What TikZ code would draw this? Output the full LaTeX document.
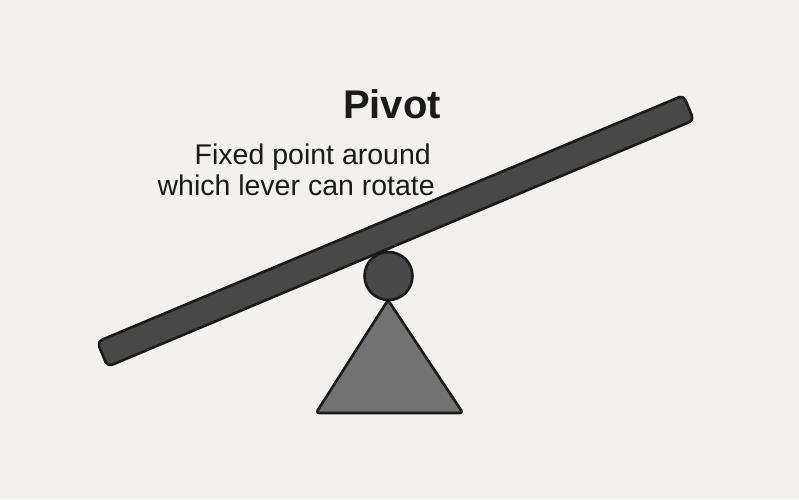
\documentclass[tikz,border=0pt]{standalone}
\usepackage{fontspec}
\setmainfont{Liberation Sans}
\definecolor{bg}{HTML}{F3F1ED}
\definecolor{ink}{HTML}{1A1A1A}
\definecolor{darkpart}{HTML}{484848}
\definecolor{basepart}{HTML}{727272}
\begin{document}
\begin{tikzpicture}[x=1pt,y=-1pt,
  outline/.style={draw=ink, line width=2.6pt, line join=round},
  labeltext/.style={inner sep=0pt, text=ink, font=\fontsize{28.5}{32}\selectfont},
  titletext/.style={inner sep=0pt, text=ink, font=\fontsize{40}{46}\selectfont\bfseries}]
\fill[bg] (0,0) rectangle (799,499);
\useasboundingbox (0,0) rectangle (799,499);
% base triangle
\coordinate (apex) at (388,300);
\coordinate (bl) at (316,413);
\coordinate (br) at (463,413);
\draw[outline, fill=basepart, rounded corners=3pt] (apex) -- (br) -- (bl) -- cycle;
% pivot ball
\node[outline, fill=darkpart, circle, minimum size=48pt, inner sep=0pt] (ball) at (388.5,276) {};
% lever
\node[outline, fill=darkpart, rectangle, rounded corners=5pt, minimum width=636pt, minimum height=27pt, inner sep=0pt, rotate=22.8] (lever) at (395.5,231) {};
% texts
\node[titletext, anchor=base] (title) at (392,118) {Pivot};
\node[labeltext, anchor=base east] (line1) at (431,164) {Fixed point around};
\node[labeltext, anchor=base east] (line2) at (435,195) {which lever can rotate};
\end{tikzpicture}
\end{document}
